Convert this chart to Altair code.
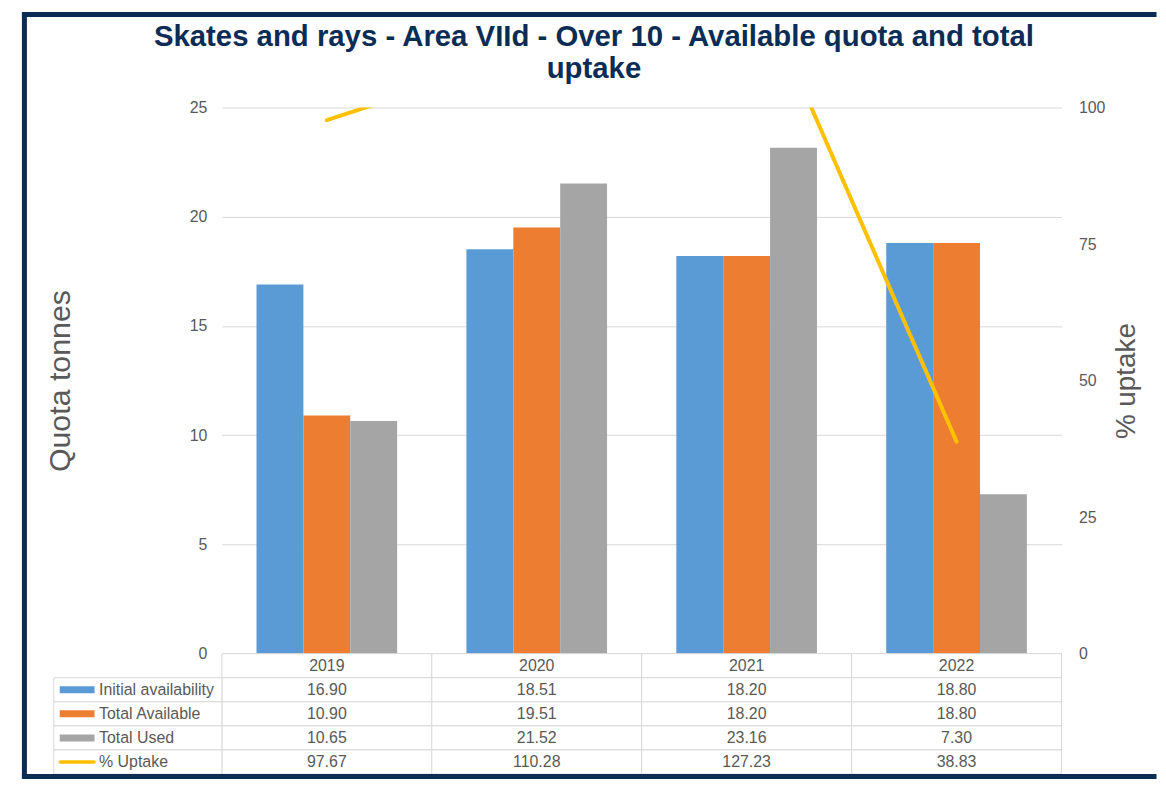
import altair as alt
import pandas as pd

# ---- data ----
years = ["2019", "2020", "2021", "2022"]
initial_availability = [16.90, 18.51, 18.20, 18.80]
total_available = [10.90, 19.51, 18.20, 18.80]
total_used = [10.65, 21.52, 23.16, 7.30]
pct_uptake = [97.67, 110.28, 127.23, 38.83]

bar_series = ["Initial availability", "Total Available", "Total Used"]
all_series = bar_series + ["% Uptake"]
series_colors = ["#5B9BD5", "#ED7D31", "#A5A5A5", "#FFC000"]
title_lines = ["Skates and rays - Area VIId - Over 10 - Available quota and total", "uptake"]

FONT = "Liberation Sans"
GREY = "#595959"
GRID = "#D9D9D9"
NAVY = "#0B2C55"

# ---- tables built from the arrays ----
bar_values = [initial_availability, total_available, total_used]
bars_df = pd.DataFrame(
    [{"Year": y, "Series": s, "Value": v[i]}
     for s, v in zip(bar_series, bar_values) for i, y in enumerate(years)]
)
line_df = pd.DataFrame({"Year": years, "Uptake": pct_uptake})

row_order = ["Year"] + all_series
table_rows = []
for i, y in enumerate(years):
    table_rows.append({"Row": "Year", "Year": y, "Text": y})
    for s, v in zip(all_series, bar_values + [pct_uptake]):
        table_rows.append({"Row": s, "Year": y, "Text": f"{v[i]:.2f}"})
table_df = pd.DataFrame(table_rows)
label_df = pd.DataFrame({"Row": all_series})
one = pd.DataFrame({"k": [0]})

W, H = 844, 549
TH = 121
color_scale = alt.Scale(domain=all_series, range=series_colors)
x_main = alt.X("Year:N", sort=years,
               scale=alt.Scale(paddingInner=0.33, paddingOuter=0.165), axis=None)

bars = alt.Chart(bars_df).mark_bar().encode(
    x=x_main,
    xOffset=alt.XOffset("Series:N", sort=bar_series,
                        scale=alt.Scale(domain=bar_series, paddingInner=0, paddingOuter=0)),
    y=alt.Y("Value:Q", scale=alt.Scale(domain=[0, 25], nice=False),
            axis=alt.Axis(values=[0, 5, 10, 15, 20, 25], grid=True, gridColor=GRID,
                          domain=False, ticks=False, labelPadding=15, labelFontSize=16,
                          labelColor=GREY, labelFont=FONT,
                          title="Quota tonnes", titleFont=FONT, titleFontSize=30.5,
                          titleFontWeight="normal", titleColor=GREY, titleAngle=270,
                          titleBaseline="alphabetic", titleAlign="center",
                          titleX=-153, titleY=274.5)),
    color=alt.Color("Series:N", scale=color_scale, legend=None),
)

line = alt.Chart(line_df).mark_line(color="#FFC000", strokeWidth=4, clip=True,
                                    strokeCap="round", strokeJoin="round").encode(
    x=x_main,
    y=alt.Y("Uptake:Q", scale=alt.Scale(domain=[0, 100], nice=False),
            axis=alt.Axis(orient="right", values=[0, 25, 50, 75, 100], grid=False,
                          domain=False, ticks=False, labelPadding=17, labelFontSize=16,
                          labelColor=GREY, labelFont=FONT,
                          title="% uptake", titleFont=FONT, titleFontSize=28,
                          titleFontWeight="normal", titleColor=GREY, titleAngle=270,
                          titleBaseline="alphabetic", titleAlign="center",
                          titleX=73, titleY=274.5)),
)

main = alt.layer(bars, line).resolve_scale(
    y="independent"
).properties(
    width=W, height=H,
    title=alt.TitleParams(text=title_lines, font=FONT, fontSize=29.5, fontWeight="bold",
                          color=NAVY, anchor="middle", frame="group", offset=15,
                          lineHeight=32.5, dx=-48),
)

# ---- data table under the plot ----
x_tab = alt.X("Year:N", sort=years, scale=alt.Scale(paddingInner=0, paddingOuter=0), axis=None)
y_tab = alt.Y("Row:N", sort=row_order,
              scale=alt.Scale(domain=row_order, paddingInner=0, paddingOuter=0), axis=None)

cells = alt.Chart(table_df).mark_rect(fill="white", stroke=GRID, strokeWidth=1).encode(
    x=x_tab, y=y_tab)
cell_text = alt.Chart(table_df).mark_text(font=FONT, fontSize=16, color=GREY,
                                          baseline="middle").encode(
    x=x_tab, y=y_tab, text="Text:N")
label_cells = alt.Chart(label_df).mark_rect(fill="white", stroke=GRID, strokeWidth=1).encode(
    x=alt.value(-169), x2=alt.value(0), y=y_tab)
swatches = alt.Chart(label_df).transform_filter(
    alt.FieldOneOfPredicate(field="Row", oneOf=bar_series)
).mark_rule(strokeWidth=7, strokeCap="butt").encode(
    x=alt.value(-163), x2=alt.value(-128), y=y_tab,
    color=alt.Color("Row:N", scale=color_scale, legend=None))
line_swatch = alt.Chart(label_df).transform_filter(
    alt.datum.Row == "% Uptake"
).mark_rule(strokeWidth=3.5, strokeCap="round").encode(
    x=alt.value(-162.5), x2=alt.value(-128.5), y=y_tab,
    color=alt.Color("Row:N", scale=color_scale, legend=None))
label_text = alt.Chart(label_df).mark_text(font=FONT, fontSize=16, color=GREY,
                                           align="left", baseline="middle").encode(
    x=alt.value(-123.5), y=y_tab, text="Row:N")

# outer navy frame (left, top, bottom edges), relative to the table's top-left
FT = -(656 - 13.5)
FB = 779.5 - 656
frame_left = alt.Chart(one).mark_rule(color=NAVY, strokeWidth=5, strokeCap="square").encode(
    x=alt.value(-198.5), y=alt.value(FT), y2=alt.value(FB))
frame_top = alt.Chart(one).mark_rule(color=NAVY, strokeWidth=5, strokeCap="square").encode(
    x=alt.value(-198.5), x2=alt.value(937), y=alt.value(FT))
frame_bottom = alt.Chart(one).mark_rule(color=NAVY, strokeWidth=5, strokeCap="square").encode(
    x=alt.value(-198.5), x2=alt.value(937), y=alt.value(FB))

table = alt.layer(cells, cell_text, label_cells, swatches, line_swatch, label_text,
                  frame_left, frame_top, frame_bottom).properties(width=W, height=TH)

chart = alt.vconcat(main, table, spacing=0, bounds="flush").properties(
    padding={"left": 12, "top": 0, "right": 0, "bottom": 0},
    background="white",
).configure_view(stroke=None)

chart.save("out.html", embed_options={"renderer": "svg", "actions": False})
